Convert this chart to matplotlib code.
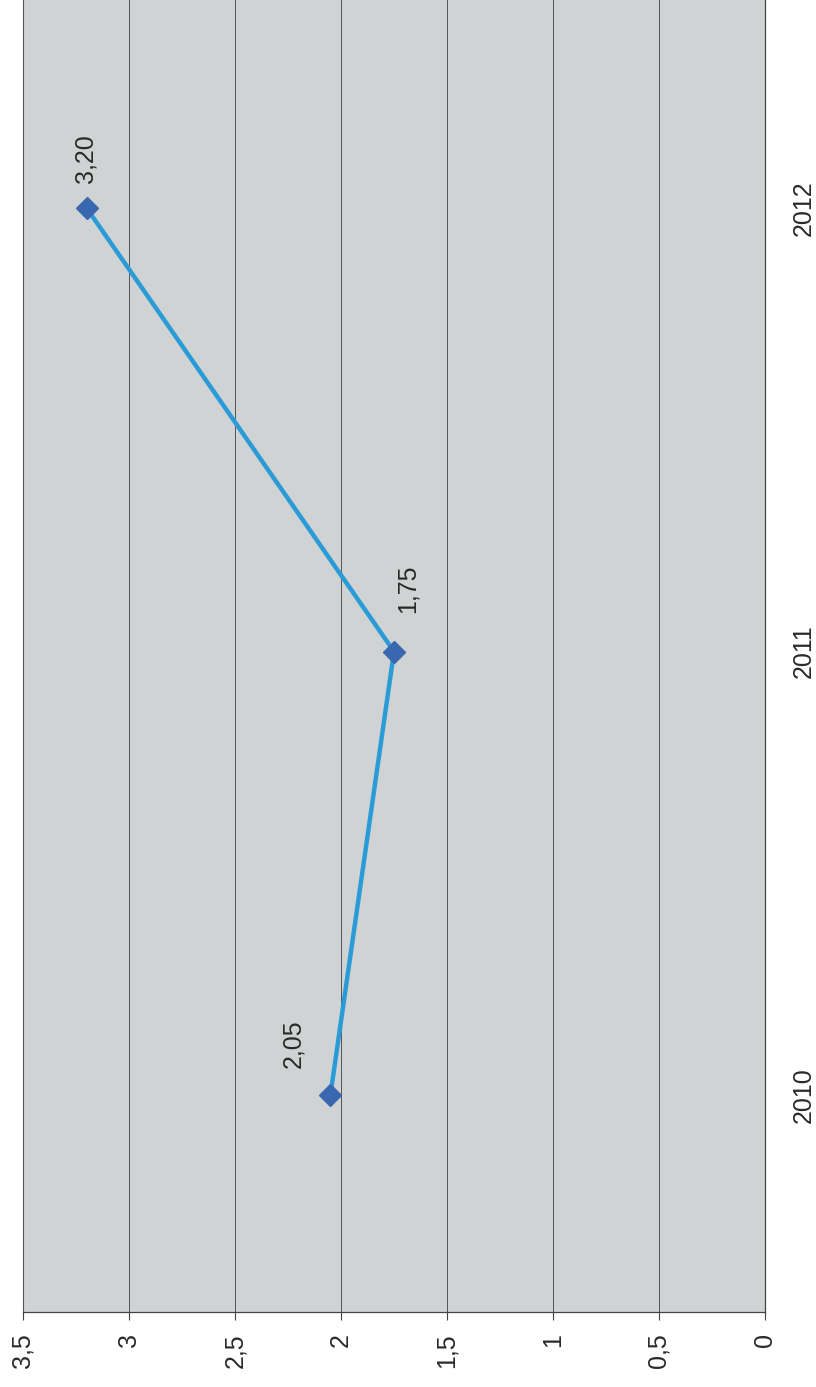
import matplotlib.pyplot as plt

years = ['2010', '2011', '2012']
values = [2.05, 1.75, 3.20]
value_ticks = [0, 0.5, 1, 1.5, 2, 2.5, 3, 3.5]

# label offsets in pixels (manual placement in the original)
label_offsets = [(-37, 51), (14, 63), (-1, 49)]

plt.rcParams['font.family'] = ['Liberation Sans', 'DejaVu Sans']

fig = plt.figure(figsize=(8.16, 13.87), dpi=100)
ax = fig.add_axes([23 / 816, 75 / 1387, 742 / 816, 1312 / 1387])
ax.set_facecolor('#d0d3d3')

pos = list(range(len(years)))
ax.plot(values, pos, color='#2b9bd8', lw=3.2, zorder=3, solid_capstyle='round')
ax.plot(values, pos, 'D', color='#3a68b0', markersize=11.5, zorder=4)

for v, p, off in zip(values, pos, label_offsets):
    ax.annotate(f'{v:.2f}'.replace('.', ','), (v, p), xytext=off,
                textcoords='offset pixels', rotation=90, fontsize=18,
                ha='center', va='center', color='#2a2a2a', zorder=5)

ax.set_xlim(3.5, 0)
ax.set_ylim(-0.489, 2.469)

ax.set_xticks(value_ticks)
ax.set_xticklabels([str(t).replace('.0', '').replace('.', ',') if t != 0 else '0'
                    for t in value_ticks], rotation=90, fontsize=18, color='#2a2a2a')
ax.tick_params(axis='x', direction='out', length=5.8, width=0.8, color='#444444', pad=9.4)

ax.yaxis.tick_right()
ax.set_yticks(pos)
ax.set_yticklabels(years, rotation=90, fontsize=18, color='#2a2a2a', va='center')
ax.tick_params(axis='y', length=0, pad=19)

ax.grid(axis='x', color='#555555', lw=0.7)
ax.set_axisbelow(True)
for side in ['right', 'bottom']:
    ax.spines[side].set_color('#444444')
    ax.spines[side].set_linewidth(0.9)
ax.spines['left'].set_color('#555555')
ax.spines['left'].set_linewidth(0.8)
ax.spines['top'].set_visible(False)

fig.savefig('out.png', dpi=100)
